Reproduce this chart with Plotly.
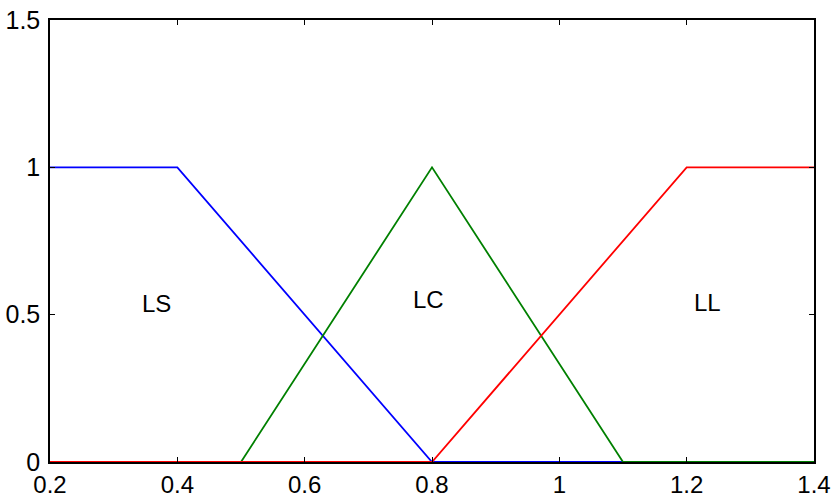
import plotly.graph_objects as go

# Membership functions (breakpoints)
ls_x = [0.2, 0.4, 0.8, 1.4]
ls_y = [1, 1, 0, 0]
lc_x = [0.2, 0.5, 0.8, 1.1, 1.4]
lc_y = [0, 0, 1, 0, 0]
ll_x = [0.2, 0.8, 1.2, 1.4]
ll_y = [0, 0, 1, 1]

labels = ["LS", "LC", "LL"]
label_x = [0.368, 0.795, 1.232]
label_y = [0.537, 0.552, 0.54]

x_ticks = [0.2, 0.4, 0.6, 0.8, 1.0, 1.2, 1.4]
x_tick_text = ["0.2", "0.4", "0.6", "0.8", "1", "1.2", "1.4"]
y_ticks = [0, 0.5, 1, 1.5]
y_tick_text = ["0", "0.5", "1", "1.5"]

fig = go.Figure()
fig.add_trace(go.Scatter(x=ls_x, y=ls_y, mode="lines", line=dict(color="#0000ff", width=1.8), name="LS"))
fig.add_trace(go.Scatter(x=lc_x, y=lc_y, mode="lines", line=dict(color="#008000", width=1.8), name="LC"))
fig.add_trace(go.Scatter(x=ll_x, y=ll_y, mode="lines", line=dict(color="#ff0000", width=1.8), name="LL"))

for t, x, y in zip(labels, label_x, label_y):
    fig.add_annotation(x=x, y=y, text=t, showarrow=False,
                       font=dict(family="Arial, Liberation Sans", size=24, color="black"))

fig.update_layout(
    width=834, height=496,
    margin=dict(l=50, r=20, t=20, b=34),
    plot_bgcolor="white", paper_bgcolor="white",
    showlegend=False,
    font=dict(family="Arial, Liberation Sans", size=24, color="black"),
)
fig.update_xaxes(range=[0.2, 1.4], tickvals=x_ticks, ticktext=x_tick_text, automargin=False,
                 showgrid=False, zeroline=False, showline=True, linecolor="black", linewidth=1.5,
                 mirror="allticks", ticks="inside", ticklen=5, tickcolor="black", ticklabelstandoff=0,
                 ticklabeloverflow="allow")
fig.update_yaxes(range=[0, 1.5], tickvals=y_ticks, ticktext=y_tick_text, automargin=False,
                 showgrid=False, zeroline=False, showline=True, linecolor="black", linewidth=1.5,
                 mirror="allticks", ticks="inside", ticklen=5, tickcolor="black", ticklabelstandoff=3,
                 ticklabeloverflow="allow", tickfont=dict(size=25))

fig.write_html("out.html", config={"displayModeBar": False},
               post_script="document.body.style.margin='0px';document.body.style.overflow='hidden';")
